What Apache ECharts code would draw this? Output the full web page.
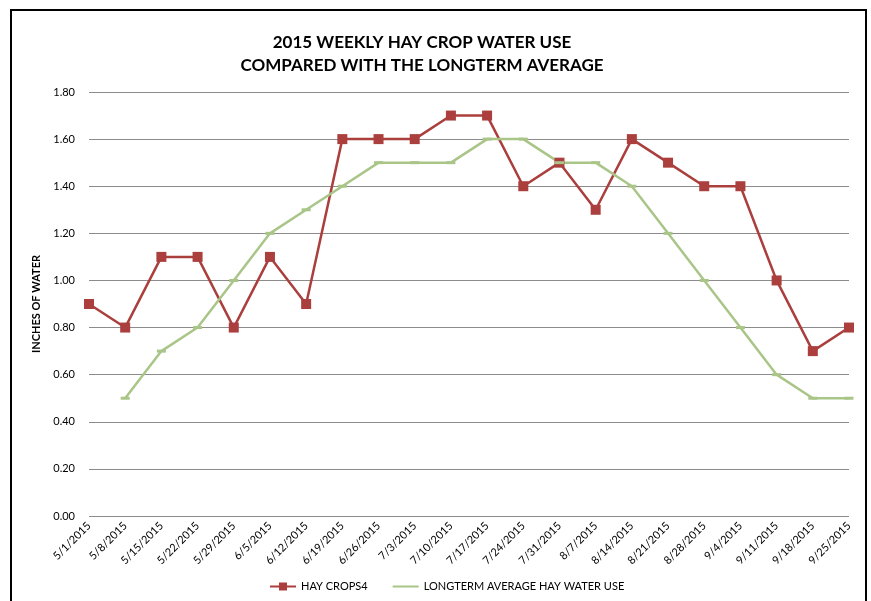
<!DOCTYPE html>
<html>
<head>
<meta charset="utf-8">
<script src="https://cdn.jsdelivr.net/npm/echarts@6/dist/echarts.min.js"></script>
<style>
  html, body { margin: 0; padding: 0; background: #fff; }
  #frame { position: absolute; left: 10px; top: 9px; width: 857px; height: 600px; border: 2.5px solid #000; border-bottom: none; box-sizing: border-box; }
  #chart { position: absolute; left: 0; top: 0; width: 871px; height: 601px; }
</style>
</head>
<body>
<div id="frame"></div>
<div id="chart"></div>
<script>
const weeks = ['5/1/2015', '5/8/2015', '5/15/2015', '5/22/2015', '5/29/2015', '6/5/2015', '6/12/2015',
  '6/19/2015', '6/26/2015', '7/3/2015', '7/10/2015', '7/17/2015', '7/24/2015', '7/31/2015', '8/7/2015',
  '8/14/2015', '8/21/2015', '8/28/2015', '9/4/2015', '9/11/2015', '9/18/2015', '9/25/2015'];
const hayCrops = [0.9, 0.8, 1.1, 1.1, 0.8, 1.1, 0.9, 1.6, 1.6, 1.6, 1.7, 1.7, 1.4, 1.5, 1.3, 1.6, 1.5, 1.4, 1.4, 1.0, 0.7, 0.8];
const longterm = [null, 0.5, 0.7, 0.8, 1.0, 1.2, 1.3, 1.4, 1.5, 1.5, 1.5, 1.6, 1.6, 1.5, 1.5, 1.4, 1.2, 1.0, 0.8, 0.6, 0.5, 0.5];

const font = 'Lato, "Open Sans", sans-serif';
const red = '#AA3F3D';
const green = '#A9C588';

const chart = echarts.init(document.getElementById('chart'));
chart.setOption({
  animation: false,
  textStyle: { fontFamily: font },
  title: {
    text: '2015 WEEKLY HAY CROP WATER USE\nCOMPARED WITH THE LONGTERM AVERAGE',
    left: 417,
    textAlign: 'center',
    top: 26,
    textStyle: { fontSize: 17, fontWeight: 'bold', color: '#000', lineHeight: 23, fontFamily: font }
  },
  legend: {
    bottom: 4,
    left: 264,
    itemGap: 24,
    itemWidth: 26,
    itemHeight: 10,
    textStyle: { fontSize: 11, color: '#000', fontFamily: font },
    data: [
      { name: 'HAY CROPS4' },
      { name: 'LONGTERM AVERAGE HAY WATER USE', itemStyle: { opacity: 0 } }
    ]
  },
  grid: { left: 89, right: 22, top: 92, bottom: 85 },
  xAxis: {
    type: 'category',
    data: weeks,
    boundaryGap: false,
    axisLine: { show: false },
    axisTick: { show: false },
    axisLabel: { rotate: 45, fontSize: 11, color: '#000', margin: 8, interval: 0 }
  },
  yAxis: {
    type: 'value',
    min: 0,
    max: 1.8,
    interval: 0.2,
    name: 'INCHES OF WATER',
    nameLocation: 'middle',
    nameGap: 44,
    nameTextStyle: { fontSize: 11, fontWeight: 'bold', color: '#000' },
    axisLabel: { formatter: v => v.toFixed(2), fontSize: 11, color: '#000', margin: 14 },
    splitLine: { lineStyle: { color: '#8c8c8c', width: 1 } }
  },
  series: [
    {
      name: 'HAY CROPS4',
      type: 'line',
      data: hayCrops,
      color: red,
      symbol: 'rect',
      symbolSize: 10,
      lineStyle: { width: 2.5, color: red },
      itemStyle: { color: red }
    },
    {
      name: 'LONGTERM AVERAGE HAY WATER USE',
      type: 'line',
      data: longterm,
      color: green,
      symbol: 'rect',
      symbolSize: [9, 3],
      lineStyle: { width: 2.5, color: green },
      itemStyle: { color: green }
    }
  ]
});
</script>
</body>
</html>
